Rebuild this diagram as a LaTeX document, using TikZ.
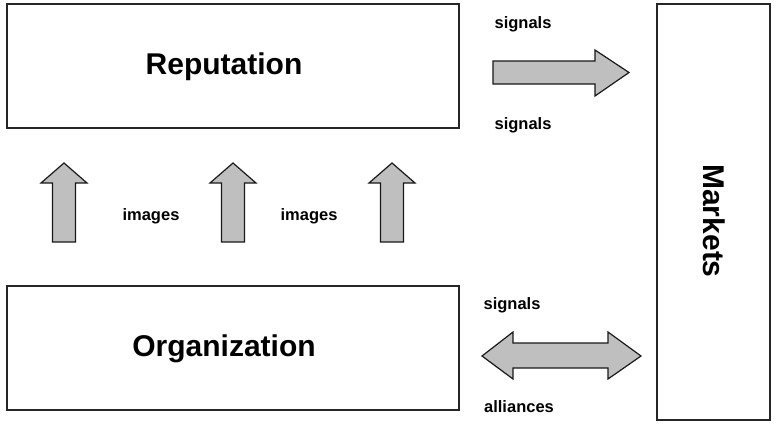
\documentclass[tikz,border=0pt]{standalone}
\usepackage{fontspec}
\setmainfont{Liberation Sans}
\begin{document}
\begin{tikzpicture}[x=1pt,y=-1pt,
  box/.style={draw=black!85,line width=1.3pt},
  bigtext/.style={font=\bfseries\fontsize{30}{34}\selectfont},
  lbl/.style={font=\bfseries\fontsize{16.5}{19}\selectfont},
  blockarrow/.style={draw=black!90,fill=black!25,line width=1.2pt,line join=miter}]
\useasboundingbox (0,0) rectangle (776,424);
% boxes
\draw[box] (7,4) rectangle (459,128);
\draw[box] (7,286) rectangle (459,410);
\draw[box] (657,4) rectangle (770,420);
\node[bigtext] (rep) at (224,67) {Reputation};
\node[bigtext] (org) at (224,349) {Organization};
\node[bigtext,rotate=-90] (mkt) at (714,221) {Markets};
% right arrow top
\draw[blockarrow] (493,61) -- (595,61) -- (595,50) -- (629,72.5) -- (595,96) -- (595,84) -- (493,84) -- cycle;
% double arrow bottom
\draw[blockarrow] (482,356) -- (513,332) -- (513,343) -- (608,343) -- (608,332) -- (641,356) -- (608,379) -- (608,368) -- (513,368) -- (513,379) -- cycle;
% up arrows
\foreach \cx in {64,233,392}{
  \draw[blockarrow] (\cx-11.5,242) -- (\cx-11.5,183) -- (\cx-23,183) -- (\cx,163) -- (\cx+23,183) -- (\cx+11.5,183) -- (\cx+11.5,242) -- cycle;
}
% labels
\node[lbl] (s1) at (523,24) {signals};
\node[lbl] (s2) at (523,125) {signals};
\node[lbl] (s3) at (512,305) {signals};
\node[lbl] (al) at (519,407) {alliances};
\node[lbl] (i1) at (151,216) {images};
\node[lbl] (i2) at (309,216) {images};
\end{tikzpicture}
\end{document}
